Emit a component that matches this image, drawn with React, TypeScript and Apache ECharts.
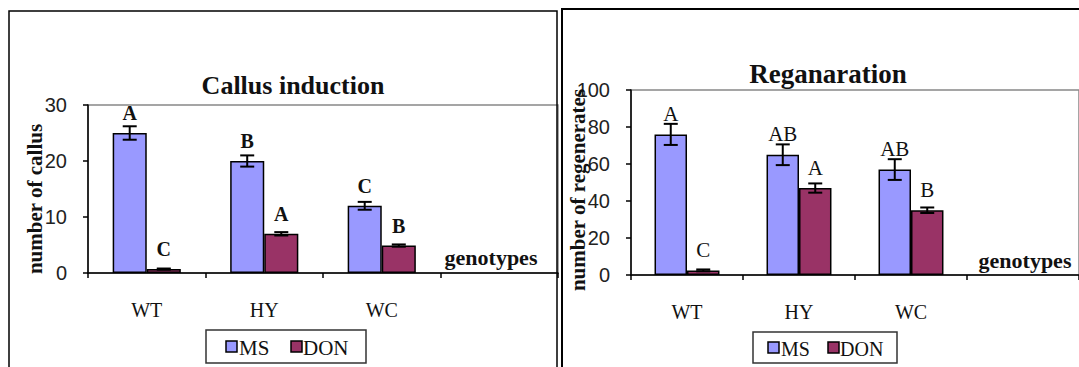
import React, { useEffect, useRef } from "react";
import * as echarts from "echarts";

const categories = ["WT", "HY", "WC", ""];
// Callus induction
const callusMS = [25, 20, 12];
const callusMSErr = [1.2, 1.0, 0.7];
const callusMSLetters = ["A", "B", "C"];
const callusDON = [0.7, 7, 4.9];
const callusDONErr = [0.1, 0.3, 0.2];
const callusDONLetters = ["C", "A", "B"];
const callusTicks = { min: 0, max: 30, interval: 10 };
// Regeneration
const regMS = [76, 65, 57];
const regMSErr = [5.7, 5.6, 5.6];
const regMSLetters = ["A", "AB", "AB"];
const regDON = [2.5, 47, 35];
const regDONErr = [0.5, 2.5, 1.5];
const regDONLetters = ["C", "A", "B"];
const regTicks = { min: 0, max: 100, interval: 20 };
const legendNames = ["MS", "DON"];

const MS_COLOR = "#9999FF";
const DON_COLOR = "#993366";
const GAP = 0.42;
const SERIF = "Liberation Serif";
const SANS = "Liberation Sans";

function errSeries(axis: number, vals: number[], errs: number[], sign: number) {
  return {
    type: "custom",
    xAxisIndex: axis,
    yAxisIndex: axis,
    silent: true,
    z: 5,
    data: vals.map((v, i) => [i, v, errs[i]]),
    renderItem: (params: any, api: any) => {
      const idx = api.value(0);
      const v = api.value(1);
      const e = api.value(2);
      const c = api.coord([idx, v]);
      const catW = api.size([1, 0])[0];
      const bw = (catW * (1 - GAP)) / 2;
      const x = c[0] + (sign * bw) / 2;
      const top = api.coord([idx, v + e])[1];
      const bot = api.coord([idx, v - e])[1];
      const cap = 7;
      const st = { stroke: "#000", lineWidth: 2 };
      return {
        type: "group",
        children: [
          { type: "line", shape: { x1: x, y1: top, x2: x, y2: bot }, style: st },
          { type: "line", shape: { x1: x - cap, y1: top, x2: x + cap, y2: top }, style: st },
          { type: "line", shape: { x1: x - cap, y1: bot, x2: x + cap, y2: bot }, style: st },
        ],
      };
    },
  };
}

function barSeries(name: string, axis: number, vals: number[], letters: string[], color: string, bold: boolean) {
  return {
    name,
    type: "bar",
    xAxisIndex: axis,
    yAxisIndex: axis,
    data: vals,
    barCategoryGap: GAP * 100 + "%",
    barGap: "0%",
    itemStyle: { color, borderColor: "#000", borderWidth: 1.5 },
    label: {
      show: true,
      position: "top",
      distance: 10,
      formatter: (p: any) => letters[p.dataIndex],
      fontFamily: SERIF,
      fontSize: bold ? 20 : 21,
      fontWeight: bold ? "bold" : "normal",
      color: "#111",
    },
  };
}

function xAxis(grid: number) {
  return {
    type: "category",
    gridIndex: grid,
    data: categories,
    axisLine: { lineStyle: { color: "#000", width: 1.5 } },
    axisTick: { show: true, length: 5, lineStyle: { color: "#000", width: 1.5 } },
    axisLabel: { margin: 27, fontFamily: SERIF, fontSize: 20, color: "#111" },
  };
}

function yAxis(grid: number, t: { min: number; max: number; interval: number }) {
  return {
    type: "value",
    gridIndex: grid,
    min: t.min,
    max: t.max,
    interval: t.interval,
    axisLine: { show: true, lineStyle: { color: "#000", width: 1.5 } },
    axisTick: { show: true, length: 5, lineStyle: { color: "#000", width: 1.5 } },
    splitLine: { show: false },
    axisLabel: { margin: 21, fontFamily: SANS, fontSize: 20, color: "#222" },
  };
}

// legend box drawn with graphic elements: [boxX, boxY, boxW, boxH, icon1X, text1X, icon2X, text2X, fontSize]
function legendGraphic(bx: number, by: number, bw: number, bh: number, xs: number[], fs: number) {
  const cy = by + bh / 2;
  const colors = [MS_COLOR, DON_COLOR];
  const items: any[] = [
    { type: "rect", shape: { x: bx, y: by, width: bw, height: bh }, style: { fill: "#fff", stroke: "#333", lineWidth: 1.5 }, z: 60 },
  ];
  legendNames.forEach((n, i) => {
    items.push({ type: "rect", shape: { x: xs[i * 2], y: cy - 5.5, width: 11, height: 11 }, style: { fill: colors[i], stroke: "#000", lineWidth: 1.5 }, z: 61 });
    items.push({ type: "text", x: xs[i * 2 + 1], y: cy + 1, z: 61, style: { text: n, fontFamily: SERIF, fontSize: fs, fill: "#111", textAlign: "left", textVerticalAlign: "middle" } });
  });
  return items;
}

export default function App() {
  const ref = useRef<HTMLDivElement>(null);
  useEffect(() => {
    document.body.style.margin = "0";
    const chart = echarts.init(ref.current!, undefined, { renderer: "svg" });
    const title = (x: number, y: number, text: string, size: number) => ({
      type: "text",
      x,
      y,
      z: 50,
      style: { text, fontFamily: SERIF, fontSize: size, fontWeight: "bold", fill: "#111", textAlign: "center", textVerticalAlign: "middle" },
    });
    chart.setOption({
      animation: false,
      backgroundColor: "#fff",
      textStyle: { fontFamily: SERIF },
      grid: [
        { left: 88, top: 105, width: 470, height: 168, show: true, borderColor: "#888", borderWidth: 1.5, backgroundColor: "#fff" },
        { left: 631, top: 90, width: 460, height: 185, show: true, borderColor: "#888", borderWidth: 1.5, backgroundColor: "#fff" },
      ],
      xAxis: [xAxis(0), xAxis(1)],
      yAxis: [yAxis(0, callusTicks), yAxis(1, regTicks)],
      series: [
        barSeries("MS", 0, callusMS, callusMSLetters, MS_COLOR, true),
        barSeries("DON", 0, callusDON, callusDONLetters, DON_COLOR, true),
        errSeries(0, callusMS, callusMSErr, -1),
        errSeries(0, callusDON, callusDONErr, 1),
        barSeries("MS", 1, regMS, regMSLetters, MS_COLOR, false),
        barSeries("DON", 1, regDON, regDONLetters, DON_COLOR, false),
        errSeries(1, regMS, regMSErr, -1),
        errSeries(1, regDON, regDONErr, 1),
      ],
      graphic: [
        { type: "polyline", shape: { points: [[9, 367], [9, 11], [557, 11], [557, 367]] }, style: { fill: "none", stroke: "#000", lineWidth: 1.5 }, z: 100 },
        { type: "polyline", shape: { points: [[562, 367], [562, 9], [1079, 9]] }, style: { fill: "none", stroke: "#000", lineWidth: 2 }, z: 100 },
        title(293, 85, "Callus induction", 26),
        title(828, 74, "Reganaration", 27),
        { ...title(35, 199, "number of callus", 21), rotation: Math.PI / 2 },
        { ...title(578, 190, "number of regenerates", 21), rotation: Math.PI / 2 },
        title(491, 257, "genotypes", 22),
        title(1025, 260, "genotypes", 22),
        ...legendGraphic(206, 330, 160, 33, [226, 239, 291, 303], 21),
        ...legendGraphic(753, 332, 144, 31, [768, 781, 828, 840], 20),
      ],
    });
    return () => chart.dispose();
  }, []);
  return <div ref={ref} style={{ position: "fixed", left: 0, top: 0, width: 1079, height: 367 }} />;
}
